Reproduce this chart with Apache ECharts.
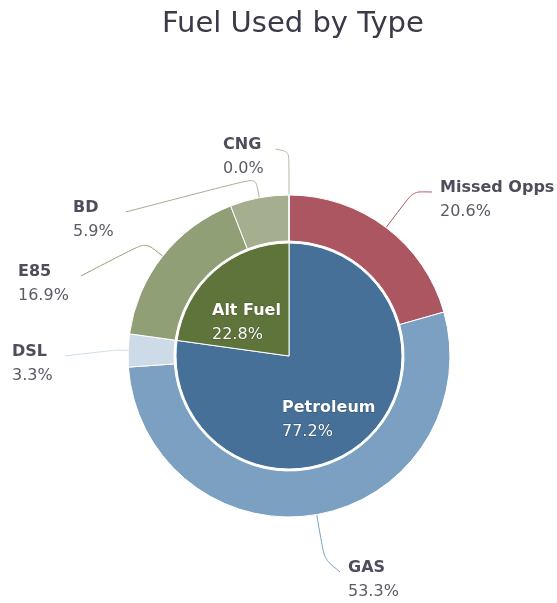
<!DOCTYPE html>
<html>
<head>
<meta charset="utf-8">
<script src="https://cdn.jsdelivr.net/npm/echarts@6/dist/echarts.min.js"></script>
<style>
  html, body { margin: 0; padding: 0; background: #fff; }
  #chart { width: 557px; height: 603px; }
</style>
</head>
<body>
<div id="chart"></div>
<script>
// inner pie
var groupNames = ['Petroleum', 'Alt Fuel'];
var groupValues = [77.2, 22.8];
var groupColors = ['#467097', '#5f743b'];

// outer ring
var typeNames = ['Missed Opps', 'GAS', 'DSL', 'E85', 'BD', 'CNG'];
var typeValues = [20.6, 53.3, 3.3, 16.9, 5.9, 0.0];
var typeColors = ['#ab5661', '#7ba0c1', '#cddbe8', '#919f76', '#a5ae8e', '#b4bb9f'];

var CENTER = [289, 356];

// label placement (left edge, vertical middle), purely layout
var groupSpots = [[282, 420], [212, 323]];
var typeSpots = [[440, 200], [348, 580], [12, 364], [18, 284], [73, 220], [223, 157]];
var leadLen = [45, 45, 12, 22, 20, 43];
var rightSide = [true, true, false, false, false, false];

var pct = function (p) { return '{n|' + p.name + '}\n{v|' + p.value.toFixed(1) + '%}'; };

var chart = echarts.init(document.getElementById('chart'));
chart.setOption({
    title: {
        text: 'Fuel Used by Type',
        left: 157,
        top: 5,
        textStyle: { fontFamily: 'DejaVu Sans', fontSize: 29, fontWeight: 'normal', color: '#3a3a48' }
    },
    series: [
    {
        name: 'group',
        type: 'pie',
        center: CENTER,
        radius: [0, 113],
        startAngle: 90,
        silent: true,
        itemStyle: { borderColor: '#fff', borderWidth: 1 },
        label: {
            position: 'inside',
            formatter: pct,
            textBorderColor: 'rgba(0,0,0,0.25)',
            textBorderWidth: 1,
            rich: {
                n: { fontFamily: 'DejaVu Sans', fontSize: 16, fontWeight: 'bold', color: '#fff', lineHeight: 24 },
                v: { fontFamily: 'DejaVu Sans', fontSize: 16, color: '#fff', lineHeight: 24 }
            }
        },
        labelLayout: function (p) {
            var s = groupSpots[p.dataIndex];
            return { x: s[0], y: s[1], align: 'left', verticalAlign: 'middle' };
        },
        data: groupNames.map(function (n, i) {
            return { name: n, value: groupValues[i], itemStyle: { color: groupColors[i] } };
        })
    },
    {
        name: 'type',
        type: 'pie',
        center: CENTER,
        radius: [115, 161],
        startAngle: 90,
        silent: true,
        itemStyle: { borderColor: '#fff', borderWidth: 1 },
        label: {
            formatter: pct,
            rich: {
                n: { fontFamily: 'DejaVu Sans', fontSize: 16, fontWeight: 'bold', color: '#4d4d5c', lineHeight: 24 },
                v: { fontFamily: 'DejaVu Sans', fontSize: 16, color: '#5a5a68', lineHeight: 24 }
            }
        },
        labelLine: { show: true, smooth: 0.25, length: 20, length2: 10, lineStyle: { width: 1 } },
        labelLayout: function (p) {
            var i = p.dataIndex;
            var s = typeSpots[i];
            var out = { x: s[0], y: s[1], align: 'left', verticalAlign: 'middle' };
            if (p.labelLinePoints) {
                var a = p.labelLinePoints[0];
                var dx = a[0] - CENTER[0], dy = a[1] - CENTER[1];
                var d = Math.sqrt(dx * dx + dy * dy) || 1;
                var bend = [a[0] + dx / d * leadLen[i], a[1] + dy / d * leadLen[i]];
                var top = s[1] - p.labelRect.height / 2 + 12;
                var end = rightSide[i] ? [s[0] - 8, top] : [s[0] + p.labelRect.width + 12, top];
                out.labelLinePoints = [a, bend, end];
            }
            return out;
        },
        data: typeNames.map(function (n, i) {
            return { name: n, value: typeValues[i], itemStyle: { color: typeColors[i] } };
        })
    }]
});
</script>
</body>
</html>
